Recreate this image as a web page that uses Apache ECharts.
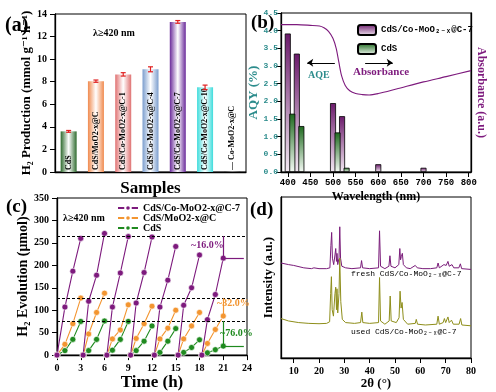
<!DOCTYPE html>
<html><head><meta charset="utf-8">
<script src="https://cdn.jsdelivr.net/npm/echarts@6/dist/echarts.min.js"></script>
<style>html,body{margin:0;padding:0;background:#fff}#c{width:496px;height:392px}</style>
</head><body><div id="c"></div>
<script>
// ---------- Panel (a) ----------
const aCategories = ['CdS','CdS/MoO2-x@C','CdS/Co-MoO2-x@C-1','CdS/Co-MoO2-x@C-4','CdS/Co-MoO2-x@C-7','CdS/Co-MoO2-x@C-10','Co-MoO2-x@C'];
const aLabels = ['CdS','CdS/MoO2-x@C','CdS/Co-MoO2-x@C-1','CdS/Co-MoO2-x@C-4','CdS/Co-MoO2-x@C-7','CdS/Co-MoO2-x@C-10','— Co-MoO2-x@C'];
const aValues = [3.6, 8.05, 8.65, 9.1, 13.3, 7.5, 0.02];
const aErrors = [0.08, 0.1, 0.15, 0.22, 0.12, 0.2, 0];
const aYTicks = [0,2,4,6,8,10,12,14];
// ---------- Panel (b) ----------
const bCo7Wavelength = [400, 420, 500, 520, 600, 700];
const bCo7AQY = [3.92, 3.35, 1.95, 1.58, 0.22, 0.12];
const bCdSWavelength = [410, 430, 510, 530];
const bCdSAQY = [1.65, 1.3, 1.12, 0.12];
const bAbsWavelength = [385,420,450,470,480,490,500,507,513,519,527,537,550,565,580,600,640,700,750,805];
const bAbsorbance = [4.17,4.17,4.15,4.13,4.08,3.98,3.78,3.5,3.1,2.72,2.45,2.3,2.22,2.19,2.18,2.22,2.35,2.55,2.7,2.87];
const bXTicks = [400,450,500,550,600,650,700,750,800];
// ---------- Panel (c) ----------
const cCycleTimes = [[0,1,2,3],[3.3,4,5,6],[6.3,7,8,9],[9.3,10,11,12],[12.3,13,14,15],[15.3,16,17,18],[18.3,19,20,21]];
const cCo7 = [[0,107,187,260],[0,120,178,271],[0,107,183,264],[0,116,184,263],[0,107,167,242],[0,111,150,223],[0,79,135,216]];
const cMoO = [[0,24,70,127],[0,47,95,138],[0,36,56,112],[0,37,70,109],[0,36,60,100],[0,36,65,95],[0,26,57,87]];
const cCdS = [[0,10,35,75],[0,10,35,76],[0,11,35,75],[0,10,31,65],[0,6,31,59],[0,6,17,34],[0,5,12,20]];
const cRefLines = [265, 127, 76];
// ---------- Panel (d) ----------
const dFresh = [[5,59],[8,58],[10,57.5],[14,56],[17,55.5],[18,56],[20,55.5],[23,55.5],[24.3,56],[24.7,70],[25.0,78],[25.3,62],[25.8,58],[26.3,64],[26.6,68],[26.9,60],[27.1,65],[27.4,58],[27.9,62],[28.2,81.5],[28.5,62],[29,57],[30.5,56],[33,55.5],[36.4,56],[36.8,60.5],[37.2,56],[40,55.5],[43.5,56],[43.9,79],[44.3,57],[46,55.5],[47.6,57],[48,63.5],[48.4,57],[50,56],[51.5,58],[51.9,68],[52.2,61],[52.5,63],[52.9,65],[53.3,58],[54.5,56],[56,55.5],[58,57.5],[58.8,56],[61,55.5],[64,55.5],[66.5,56],[67,59],[67.5,56],[69.3,58],[69.7,57],[70.2,57.5],[70.9,60],[71.4,57],[72.5,58],[73.2,56],[75.2,56],[75.8,58.5],[76.3,55.5],[80,55]];
const dUsed = [[5,24.5],[8,23],[12,22],[16,21.5],[20,21.3],[23,21.5],[24.2,22.5],[24.6,40],[24.9,50.5],[25.2,30],[25.7,26],[26.3,40],[26.6,44],[26.9,30],[27.1,43],[27.4,28],[27.9,40],[28.2,62],[28.6,35],[29.2,24],[30.5,22],[34,21.5],[36.4,22],[36.9,28.5],[37.3,22],[40,21.5],[43.5,22],[43.9,50],[44.3,23],[46,21],[47.7,23],[48.1,38.5],[48.5,23],[50.5,22],[51.6,25],[52.0,41.5],[52.4,31],[52.8,34.5],[53.3,24],[55,21],[58,21.5],[58.4,24],[58.9,21],[62,20.5],[66.5,21],[67,26],[67.5,21],[69,22],[69.5,24.5],[70,22],[70.9,25.5],[71.4,22],[72.3,23.5],[73,21],[75.3,21],[75.9,24.5],[76.4,20.5],[80,20]];
const dXTicks = [10,20,30,40,50,60,70,80];

// ---------- styles ----------
const SERIF = '"Liberation Serif", "DejaVu Serif", serif';
const MONO = '"Liberation Mono", "DejaVu Sans Mono", monospace';
const aBarColors = ['#2E6B2E','#F08A4E','#E07272','#7C9ECE','#6A2A9A','#3EDCDC','#222'];
const PURPLE = '#7D1A7D', ORANGE = '#F39530', GREEN = '#1F8A1F', TEAL = '#2C8C8C';

function hGrad(c){ return new echarts.graphic.LinearGradient(0,0,1,0,[{offset:0,color:c},{offset:0.5,color:'#ffffff'},{offset:1,color:c}]); }
function vGrad(c, e){ return new echarts.graphic.LinearGradient(0,0,0,1,[{offset:0,color:c},{offset:1,color:e}]); }

const axisBase = {
  axisLine:{show:true, onZero:false, lineStyle:{color:'#000', width:1.3}},
  axisTick:{show:true, lineStyle:{color:'#000'}},
  axisLabel:{color:'#000', fontFamily:SERIF, fontWeight:'bold', fontSize:10},
  splitLine:{show:false}
};
function ax(o){ return Object.assign({}, JSON.parse(JSON.stringify(axisBase)), o); }

const series = [];
// (a) bars
series.push({
  type:'bar', name:'aBars', xAxisIndex:0, yAxisIndex:0, barWidth:16,
  data: aValues.map((v,i)=>({value:v, itemStyle:{color:hGrad(aBarColors[i])}})),
  label:{show:true, rotate:90, position:'insideBottom', align:'left', verticalAlign:'middle', distance:2,
    formatter:p=>aLabels[p.dataIndex], fontFamily:SERIF, fontWeight:'bold', fontSize:8, color:'#000'}
});
series.push({
  type:'custom', name:'aErr', xAxisIndex:0, yAxisIndex:0,
  data: aValues.map((v,i)=>[i, v, aErrors[i]]),
  renderItem:function(params, api){
    const i = api.value(0), v = api.value(1), e = api.value(2);
    if (!e) return null;
    const t = api.coord([i, v+e]), b = api.coord([i, v-e]);
    const st = {stroke:'#E02020', lineWidth:1.2}, w = 2.5;
    return {type:'group', children:[
      {type:'line', shape:{x1:t[0],y1:t[1],x2:b[0],y2:b[1]}, style:st},
      {type:'line', shape:{x1:t[0]-w,y1:t[1],x2:t[0]+w,y2:t[1]}, style:st},
      {type:'line', shape:{x1:b[0]-w,y1:b[1],x2:b[0]+w,y2:b[1]}, style:st}
    ]};
  }, z:5
});
// (b) absorbance + bars
series.push({
  type:'line', name:'Absorbance', xAxisIndex:1, yAxisIndex:2, showSymbol:false, smooth:0.3,
  data: bAbsWavelength.map((w,i)=>[w, bAbsorbance[i]]),
  lineStyle:{color:PURPLE, width:1.1},
  markLine:{silent:true, label:{show:false}, symbolSize:6,
    data:[
      [{coord:[443,3.09], symbol:'arrow'},{coord:[504,3.09], symbol:'none'}],
      [{coord:[571,3.09], symbol:'none'},{coord:[632,3.09], symbol:'arrow'}]
    ], lineStyle:{color:'#000', width:1, type:'solid'}}
});
series.push({
  type:'bar', name:'CdS/Co-MoO₂₋ₓ@C-7', xAxisIndex:1, yAxisIndex:1, barWidth:6, barGap:'-100%',
  data: bCo7Wavelength.map((w,i)=>[w, bCo7AQY[i]]),
  itemStyle:{color:vGrad('#6B1A6B','#F3EAF3'), borderColor:'#000', borderWidth:0.8}
});
series.push({
  type:'bar', name:'CdS(b)', xAxisIndex:1, yAxisIndex:1, barWidth:6, barGap:'-100%',
  data: bCdSWavelength.map((w,i)=>[w, bCdSAQY[i]]),
  itemStyle:{color:vGrad('#1E6A1E','#F4FAF4'), borderColor:'#000', borderWidth:0.8}
});
// (c) cycles
const cSets = [['CdS/Co-MoO2-x@C-7', cCo7, PURPLE], ['CdS/MoO2-x@C', cMoO, ORANGE], ['CdS', cCdS, GREEN]];
cSets.forEach(([nm, vals, col], si)=>{
  vals.forEach((cyc, k)=>{
    const s = {
      type:'line', name:nm, xAxisIndex:2, yAxisIndex:3, symbol:'circle', symbolSize:6,
      data: cyc.map((v,j)=>[cCycleTimes[k][j], v]),
      lineStyle:{color:col, width:1.1}, itemStyle:{color:col, borderColor:'#fff', borderWidth:0.6},
      z: 3 - si
    };
    if (si===0 && k===0) {
      s.markLine = {silent:true, symbol:'none', label:{show:false},
        lineStyle:{color:'#000', type:[3,2], width:1},
        data: cRefLines.map(y=>({yAxis:y}))};
    }
    if (k===6) {
      const lo = cyc[3], hi = cRefLines[si];
      s.markLine = {silent:true, symbol:'none', label:{show:false}, lineStyle:{color:col, type:'solid', width:1.2},
        data: si===1 ? [[{coord:[21,hi]},{coord:[21,lo]}]] :
          [[{coord:[21,hi]},{coord:[21,lo]}],[{coord:[21,lo]},{coord:[23.6,lo]}]]};
    }
    series.push(s);
  });
});
// (d) XRD
series.push({type:'line', name:'fresh', xAxisIndex:3, yAxisIndex:4, showSymbol:false, data:dFresh, lineStyle:{color:'#7A1C7A', width:1}});
series.push({type:'line', name:'used', xAxisIndex:3, yAxisIndex:4, showSymbol:false, data:dUsed, lineStyle:{color:'#8E8E1A', width:1}});

const option = {
  animation:false,
  backgroundColor:'#fff',
  grid:[
    {left:55, top:14, width:191, height:158, show:true, borderColor:'#000', borderWidth:1},
    {left:281, top:13, width:190, height:159, show:true, borderColor:'#000', borderWidth:1},
    {left:57, top:198, width:190, height:159, show:true, borderColor:'#000', borderWidth:1},
    {left:281, top:197, width:190, height:161, show:true, borderColor:'#000', borderWidth:1}
  ],
  xAxis:[
    ax({type:'category', gridIndex:0, data:aCategories, axisTick:{show:false}, axisLabel:{show:false},
      name:'Samples', nameLocation:'middle', nameGap:8, nameTextStyle:{fontFamily:SERIF, fontWeight:'bold', fontSize:17, color:'#000'}}),
    ax({type:'value', gridIndex:1, min:385, max:805,
      axisLabel:{customValues:bXTicks, color:'#000', fontFamily:MONO, fontWeight:'bold', fontSize:9, margin:6},
      axisTick:{customValues:bXTicks, lineStyle:{color:'#000'}},
      name:'Wavelength (nm)', nameLocation:'middle', nameGap:19, nameTextStyle:{fontFamily:SERIF, fontWeight:'bold', fontSize:12, color:'#000'}}),
    ax({type:'value', gridIndex:2, min:0, max:24, interval:3,
      name:'Time (h)', nameLocation:'middle', nameGap:18, nameTextStyle:{fontFamily:SERIF, fontWeight:'bold', fontSize:17, color:'#000'}}),
    ax({type:'value', gridIndex:3, min:5, max:80,
      axisLabel:{customValues:dXTicks, color:'#000', fontFamily:SERIF, fontWeight:'bold', fontSize:10},
      axisTick:{customValues:dXTicks, lineStyle:{color:'#000'}},
      name:'2θ (°)', nameLocation:'middle', nameGap:19, nameTextStyle:{fontFamily:SERIF, fontWeight:'bold', fontSize:13, color:'#000'}})
  ],
  yAxis:[
    ax({type:'value', gridIndex:0, min:0, max:14, interval:2,
      name:'H₂ Production (mmol g⁻¹ h⁻¹)', nameLocation:'middle', nameGap:16, nameTextStyle:{fontFamily:SERIF, fontWeight:'bold', fontSize:13, color:'#000'}}),
    ax({type:'value', gridIndex:1, min:0, max:4.5, interval:0.5,
      axisLabel:{color:TEAL, fontFamily:MONO, fontWeight:'bold', fontSize:8, margin:3, formatter:v=>v.toFixed(1)},
      name:'AQY (%)', nameLocation:'middle', nameGap:19, nameTextStyle:{fontFamily:SERIF, fontWeight:'bold', fontSize:13, color:TEAL}}),
    ax({type:'value', gridIndex:1, position:'right', min:0, max:4.5, axisTick:{show:false}, axisLabel:{show:false},
      name:'Absorbance (a.u.)', nameLocation:'middle', nameRotate:-90, nameGap:4, nameTextStyle:{fontFamily:SERIF, fontWeight:'bold', fontSize:12, color:PURPLE}}),
    ax({type:'value', gridIndex:2, min:0, max:350, interval:50,
      name:'H₂ Evolution (μmol)', nameLocation:'middle', nameGap:22, nameTextStyle:{fontFamily:SERIF, fontWeight:'bold', fontSize:14, color:'#000'}}),
    ax({type:'value', gridIndex:3, min:0, max:100, axisTick:{show:false}, axisLabel:{show:false},
      name:'Intensity (a.u.)', nameLocation:'middle', nameGap:6, nameTextStyle:{fontFamily:SERIF, fontWeight:'bold', fontSize:13, color:'#000'}})
  ],
  legend:[
    {data:['CdS/Co-MoO₂₋ₓ@C-7','CdS(b)'], left:352, top:19, orient:'vertical', itemWidth:18, itemHeight:10, itemGap:7,
      formatter:n=>n==='CdS(b)'?'CdS':n, textStyle:{fontFamily:MONO, fontWeight:'bold', fontSize:9, color:'#000'}},
    {data:['CdS/Co-MoO2-x@C-7','CdS/MoO2-x@C','CdS'], left:117, top:203, orient:'vertical', itemWidth:20, itemHeight:7, itemGap:0, padding:0,
      textStyle:{fontFamily:SERIF, fontWeight:'bold', fontSize:10, lineHeight:10, color:'#000'}}
  ],
  graphic:[
    {type:'text', left:5, top:16, style:{text:'(a)', font:'bold 20px '+SERIF, fill:'#000'}},
    {type:'text', left:251, top:14, style:{text:'(b)', font:'bold 19px '+SERIF, fill:'#000'}},
    {type:'text', left:6, top:198, style:{text:'(c)', font:'bold 19px '+SERIF, fill:'#000'}},
    {type:'text', left:250, top:201, style:{text:'(d)', font:'bold 19px '+SERIF, fill:'#000'}},
    {type:'text', left:93, top:28, style:{text:'λ≥420 nm', font:'bold 10px '+SERIF, fill:'#000'}},
    {type:'text', left:63, top:213, style:{text:'λ≥420 nm', font:'bold 10px '+SERIF, fill:'#000'}},
    {type:'text', left:308, top:70, style:{text:'AQE', font:'bold 10px '+SERIF, fill:TEAL}},
    {type:'text', left:353, top:67, style:{text:'Absorbance', font:'bold 11px '+SERIF, fill:PURPLE}},
    {type:'text', left:191, top:240, style:{text:'~16.0%', font:'bold 10px '+SERIF, fill:PURPLE}},
    {type:'text', left:217, top:298, style:{text:'~32.0%', font:'bold 10px '+SERIF, fill:ORANGE}},
    {type:'text', left:220, top:328, style:{text:'~76.0%', font:'bold 10px '+SERIF, fill:GREEN}},
    {type:'text', left:351, top:270, style:{text:'fresh CdS/Co-MoO₂₋ₓ@C-7', font:'8px '+MONO, fill:'#000'}},
    {type:'text', left:351, top:328, style:{text:'used CdS/Co-MoO₂₋ₓ@C-7', font:'8px '+MONO, fill:'#000'}}
  ],
  series: series
};
const chart = echarts.init(document.getElementById('c'), null, {renderer:'canvas'});
chart.setOption(option);
</script>
</body></html>
